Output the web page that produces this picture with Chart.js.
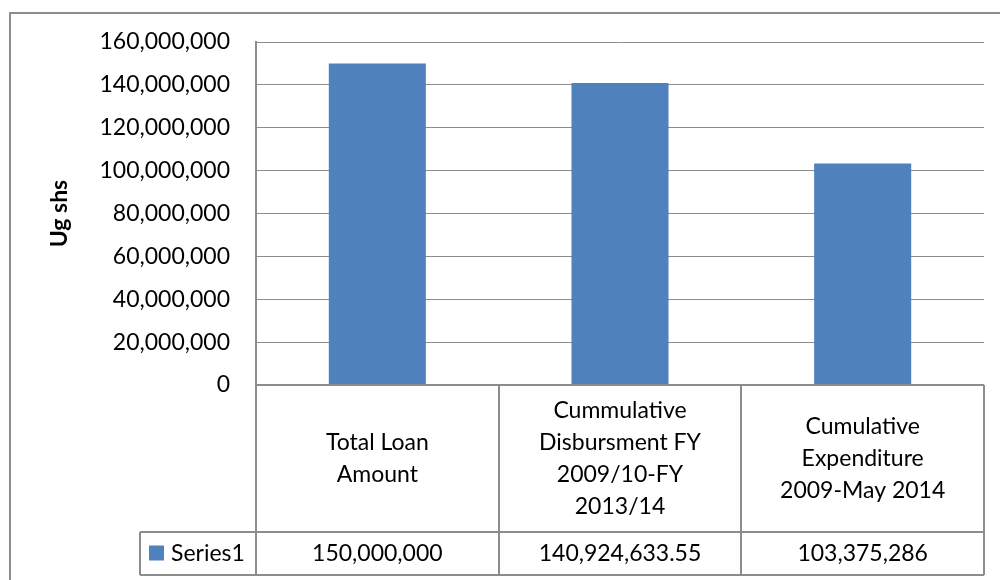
<!DOCTYPE html>
<html>
<head>
<meta charset="utf-8">
<title>Loan disbursement and expenditure</title>
<script src="https://cdn.jsdelivr.net/npm/chart.js@4.4.1/dist/chart.umd.min.js"></script>
<style>
  html, body { margin: 0; padding: 0; background: #fff; }
  #chart { display: block; }
</style>
</head>
<body>
<canvas id="chart" width="1000" height="580"></canvas>
<script>
// Chart data
const categories = [
  ['Total Loan', 'Amount'],
  ['Cummulative', 'Disbursment FY', '2009/10-FY', '2013/14'],
  ['Cumulative', 'Expenditure', '2009-May 2014'],
];
const seriesName = 'Series1';
const series1 = [150000000, 140924633.55, 103375286];
const yTicks = { min: 0, max: 160000000, step: 20000000 };
const yTitle = 'Ug shs';

const FONT = 'Lato, "Open Sans", sans-serif';
const TEXT_SIZE = 23;
const LINE = '#8c8c8c';
const BAR = '#4f81bd';

const fmt = (v) => v.toLocaleString('en-US', { maximumFractionDigits: 2 });

// outer chart frame, drawn before everything else
const framePlugin = {
  id: 'frame',
  beforeDraw(chart) {
    const ctx = chart.ctx;
    ctx.save();
    ctx.fillStyle = '#fff';
    ctx.fillRect(0, 0, chart.width, chart.height);
    ctx.strokeStyle = LINE;
    ctx.lineWidth = 2;
    ctx.strokeRect(10, 13, chart.width + 20, chart.height + 20);
    ctx.restore();
  },
};

// data table under the plot: category row, value row and legend key
const dataTablePlugin = {
  id: 'dataTable',
  afterDraw(chart) {
    const ctx = chart.ctx;
    const xs = chart.scales.x;
    const n = categories.length;
    const step = xs.width / n;
    const top = chart.chartArea.bottom;
    const rowBottom = xs.bottom;
    const catBottom = rowBottom - 43;
    const keyLeft = chart.chartArea.left - 116;

    ctx.save();
    ctx.strokeStyle = LINE;
    ctx.lineWidth = 2;
    ctx.beginPath();
    ctx.moveTo(xs.left, top);
    ctx.lineTo(xs.right, top);
    ctx.moveTo(keyLeft, catBottom);
    ctx.lineTo(xs.right, catBottom);
    ctx.moveTo(keyLeft, rowBottom);
    ctx.lineTo(xs.right, rowBottom);
    for (let i = 0; i <= n; i++) {
      const x = Math.round(xs.left + i * step);
      ctx.moveTo(x, top);
      ctx.lineTo(x, rowBottom);
    }
    ctx.moveTo(keyLeft, catBottom);
    ctx.lineTo(keyLeft, rowBottom);
    ctx.stroke();

    ctx.fillStyle = '#000';
    ctx.font = `${TEXT_SIZE}px ${FONT}`;
    ctx.textAlign = 'center';
    ctx.textBaseline = 'middle';
    const lineH = 32;
    const catMid = (top + catBottom) / 2;
    const valMid = (catBottom + rowBottom) / 2;
    categories.forEach((lines, i) => {
      const cx = xs.getPixelForValue(i);
      const y0 = catMid - ((lines.length - 1) * lineH) / 2;
      lines.forEach((t, j) => ctx.fillText(t, cx, y0 + j * lineH));
      ctx.fillText(fmt(chart.data.datasets[0].data[i]), cx, valMid);
    });

    // legend key
    ctx.fillStyle = BAR;
    ctx.fillRect(keyLeft + 9, valMid - 8, 15, 15);
    ctx.fillStyle = '#000';
    ctx.textAlign = 'left';
    ctx.fillText(seriesName, keyLeft + 31, valMid);
    ctx.restore();
  },
};

new Chart(document.getElementById('chart'), {
  type: 'bar',
  data: {
    labels: categories,
    datasets: [{
      label: seriesName,
      data: series1,
      backgroundColor: BAR,
      borderWidth: 0,
      barPercentage: 0.4,
      categoryPercentage: 1,
    }],
  },
  options: {
    responsive: false,
    animation: false,
    layout: { padding: { left: 46, top: 42, right: 16, bottom: 5 } },
    plugins: {
      legend: { display: false },
      tooltip: { enabled: false },
    },
    scales: {
      x: {
        ticks: { display: false },
        grid: { display: false },
        border: { display: false },
        afterFit: (scale) => { scale.height = 190; },
      },
      y: {
        min: yTicks.min,
        max: yTicks.max,
        ticks: {
          stepSize: yTicks.step,
          padding: 26,
          color: '#000',
          font: { family: FONT, size: TEXT_SIZE },
          callback: (v) => fmt(v),
        },
        grid: { color: LINE, lineWidth: 1, drawTicks: false },
        border: { color: LINE, width: 2 },
        title: {
          display: true,
          text: yTitle,
          color: '#000',
          padding: 0,
          font: { family: FONT, size: TEXT_SIZE, weight: 'bold' },
        },
        afterFit: (scale) => { scale.width = 210; },
      },
    },
  },
  plugins: [framePlugin, dataTablePlugin],
});
</script>
</body>
</html>
